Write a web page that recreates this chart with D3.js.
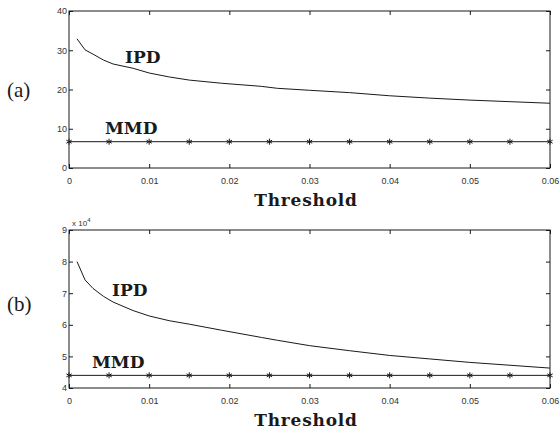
<!DOCTYPE html>
<html>
<head>
<meta charset="utf-8">
<script src="https://cdn.jsdelivr.net/npm/d3@7"></script>
<style>
  html, body { margin: 0; padding: 0; background: #fff; }
  svg { display: block; }
  .tick text { font-family: "Liberation Sans", Arial, sans-serif; font-size: 9px; fill: #333; }
</style>
</head>
<body>
<svg id="chart" width="560" height="431"></svg>
<script>
// Threshold values along the x axis
const thresholds = [0.001, 0.002, 0.003, 0.0043, 0.0055, 0.008, 0.01, 0.0125, 0.015, 0.019,
                    0.024, 0.026, 0.03, 0.035, 0.04, 0.045, 0.05, 0.055, 0.06];
// Panel (a): IPD curve and constant MMD level
const ipdA = [32.9, 30.1, 29.0, 27.5, 26.5, 25.4, 24.2, 23.2, 22.4, 21.6,
              20.8, 20.3, 19.8, 19.2, 18.4, 17.8, 17.3, 16.9, 16.5];
const mmdA = 6.7;
// Panel (b): IPD curve and constant MMD level (units of 10^4)
const ipdB = [8.0, 7.42, 7.15, 6.90, 6.72, 6.45, 6.28, 6.13, 6.02, 5.83,
              5.60, 5.51, 5.34, 5.18, 5.03, 4.92, 4.81, 4.72, 4.63];
const mmdB = 4.4;
// MMD marker positions
const mmdMarks = [0, 0.005, 0.01, 0.015, 0.02, 0.025, 0.03, 0.035, 0.04, 0.045, 0.05, 0.055, 0.06];
// Axis ticks
const xTicks = [0, 0.01, 0.02, 0.03, 0.04, 0.05, 0.06];
const yTicksA = [0, 10, 20, 30, 40];
const yTicksB = [4, 5, 6, 7, 8, 9];

const svg = d3.select("#chart");
const ink = "#1a1a1a";
const serif = "'Liberation Serif', 'Times New Roman', serif";
const boldSerif = "'DejaVu Serif', 'Liberation Serif', serif";

function panel(cfg) {
  const x = d3.scaleLinear().domain([0, 0.06]).range([69, 550]);
  const y = d3.scaleLinear().domain(cfg.yDomain).range([cfg.bottom, cfg.top]);
  const g = svg.append("g");

  // frame
  g.append("rect")
    .attr("x", x(0)).attr("y", cfg.top)
    .attr("width", x(0.06) - x(0)).attr("height", cfg.bottom - cfg.top)
    .attr("fill", "none").attr("stroke", ink).attr("stroke-width", 1);

  const fmtX = d => d === 0 ? "0" : d3.format(".2f")(d);

  // bottom axis with inward ticks
  const xb = g.append("g").attr("transform", `translate(0,${cfg.bottom})`)
    .call(d3.axisBottom(x).tickValues(xTicks).tickFormat(fmtX).tickSize(-4).tickPadding(8));
  xb.select(".domain").remove();
  xb.selectAll(".tick line").attr("stroke", ink);
  xb.selectAll(".tick text").attr("dy", "0.9em");

  // top axis ticks (no labels)
  const xt = g.append("g").attr("transform", `translate(0,${cfg.top})`)
    .call(d3.axisTop(x).tickValues(xTicks).tickFormat("").tickSize(-4));
  xt.select(".domain").remove();
  xt.selectAll(".tick line").attr("stroke", ink);

  // left axis
  const yl = g.append("g").attr("transform", `translate(${x(0)},0)`)
    .call(d3.axisLeft(y).tickValues(cfg.yTicks).tickFormat(d3.format("d")).tickSize(-4).tickPadding(2));
  yl.select(".domain").remove();
  yl.selectAll(".tick line").attr("stroke", ink);

  // right axis ticks
  const yr = g.append("g").attr("transform", `translate(${x(0.06)},0)`)
    .call(d3.axisRight(y).tickValues(cfg.yTicks).tickFormat("").tickSize(-4));
  yr.select(".domain").remove();
  yr.selectAll(".tick line").attr("stroke", ink);

  // IPD curve
  const line = d3.line().x((d, i) => x(thresholds[i])).y(d => y(d));
  g.append("path").datum(cfg.ipd)
    .attr("d", line).attr("fill", "none").attr("stroke", ink).attr("stroke-width", 1);

  // MMD level with asterisk markers
  g.append("line")
    .attr("x1", x(0)).attr("x2", x(0.06))
    .attr("y1", y(cfg.mmd)).attr("y2", y(cfg.mmd))
    .attr("stroke", ink).attr("stroke-width", 1);
  const star = d3.symbol().type(d3.symbolAsterisk).size(26);
  g.selectAll("path.mark").data(mmdMarks).join("path")
    .attr("class", "mark")
    .attr("d", star)
    .attr("transform", d => `translate(${x(d)},${y(cfg.mmd)})`)
    .attr("fill", "none").attr("stroke", ink).attr("stroke-width", 1);

  // series labels
  g.append("text").attr("x", cfg.ipdLabel[0]).attr("y", cfg.ipdLabel[1])
    .attr("font-family", boldSerif).attr("font-weight", "bold").attr("font-size", 17)
    .attr("fill", ink).text("IPD");
  g.append("text").attr("x", cfg.mmdLabel[0]).attr("y", cfg.mmdLabel[1])
    .attr("font-family", boldSerif).attr("font-weight", "bold").attr("font-size", 17)
    .attr("fill", ink).text("MMD");

  // x axis title
  g.append("text").attr("x", 306).attr("y", cfg.bottom + 38)
    .attr("text-anchor", "middle")
    .attr("font-family", boldSerif).attr("font-weight", "bold").attr("font-size", 17)
    .attr("letter-spacing", "0.8px")
    .attr("fill", ink).text("Threshold");

  // panel tag
  g.append("text").attr("x", 7).attr("y", cfg.tagY)
    .attr("font-family", serif).attr("font-size", 21)
    .attr("fill", ink).text(cfg.tag);

  return { x, y, g };
}

panel({ top: 11, bottom: 168, yDomain: [0, 40], yTicks: yTicksA, ipd: ipdA, mmd: mmdA,
        ipdLabel: [125, 63], mmdLabel: [105, 134], tag: "(a)", tagY: 97 });
const pb = panel({ top: 230, bottom: 388, yDomain: [4, 9], yTicks: yTicksB, ipd: ipdB, mmd: mmdB,
        ipdLabel: [112, 296], mmdLabel: [92, 368], tag: "(b)", tagY: 311 });

// exponent note for panel (b)
const expo = pb.g.append("text").attr("x", 72).attr("y", 226)
  .attr("font-family", "'Liberation Sans', Arial, sans-serif").attr("font-size", 8).attr("fill", "#333");
expo.append("tspan").text("x 10");
expo.append("tspan").attr("font-size", 6).attr("dy", -4).text("4");
</script>
</body>
</html>
